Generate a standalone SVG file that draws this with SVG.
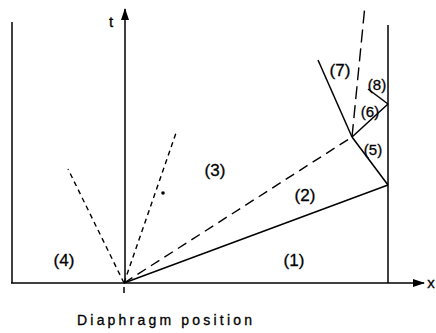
<svg xmlns="http://www.w3.org/2000/svg" width="436" height="333" viewBox="0 0 436 333">
<defs>
<marker id="arr" viewBox="0 0 12 8" refX="11" refY="4" markerWidth="12" markerHeight="8" markerUnits="userSpaceOnUse" orient="auto">
<path d="M0,0 L12,4 L0,8 Z" fill="#000"/>
</marker>
</defs>
<style>
.s{stroke:#000;stroke-width:1.5;fill:none}
.d{stroke:#000;stroke-width:1.4;fill:none}
.f{stroke-dasharray:5,4}
.c{stroke-dasharray:10,6}
.u{stroke-dasharray:13,6}
.lb{font-family:"Liberation Sans",Arial,sans-serif;font-size:17px;fill:#000;stroke:#000;stroke-width:0.3;text-anchor:middle}
.sm{font-family:"Liberation Sans",Arial,sans-serif;font-size:15px;fill:#000;stroke:#000;stroke-width:0.3;text-anchor:middle}
</style>
<rect width="436" height="333" fill="#fff"/>
<g id="axes">
<line class="s" x1="11" y1="283" x2="424" y2="283" marker-end="url(#arr)"/>
<line class="s" x1="125" y1="283" x2="125" y2="9" marker-end="url(#arr)"/>
<line class="s" x1="12" y1="22" x2="12" y2="283"/>
<line class="s" x1="388" y1="25" x2="388" y2="283"/>
<line class="s" x1="124" y1="287" x2="124" y2="293"/>
<text x="111" y="27" class="sm">t</text>
<text x="431" y="288" class="sm">x</text>
<text x="77" y="325" font-family="Liberation Sans, Arial, sans-serif" font-size="14" stroke="#000" stroke-width="0.3" textLength="175" lengthAdjust="spacing">Diaphragm position</text>
</g>
<g id="connectors">
<line class="s" x1="124" y1="283" x2="388" y2="185"/>
<line class="d c" x1="124" y1="283" x2="352" y2="137"/>
<line class="d f" x1="124" y1="283" x2="68" y2="169"/>
<line class="d f" x1="124" y1="283" x2="177" y2="130"/>
<line class="s" x1="388" y1="185" x2="352" y2="137"/>
<line class="s" x1="352" y1="137" x2="318" y2="60"/>
<line class="d u" x1="352" y1="137" x2="365" y2="5"/>
<line class="s" x1="352" y1="137" x2="388" y2="104"/>
<line class="s" x1="388" y1="104" x2="368" y2="89"/>
<circle cx="163" cy="193" r="1.8" fill="#000"/>
</g>
<g id="region1"><text x="294" y="266" class="lb">(1)</text></g>
<g id="region2"><text x="305" y="201" class="lb">(2)</text></g>
<g id="region3"><text x="215" y="176" class="lb">(3)</text></g>
<g id="region4"><text x="64" y="266" class="lb">(4)</text></g>
<g id="region5"><text x="373" y="155" class="sm">(5)</text></g>
<g id="region6"><text x="370" y="117" class="sm">(6)</text></g>
<g id="region7"><text x="340" y="76" class="lb">(7)</text></g>
<g id="region8"><text x="377" y="90" class="sm">(8)</text></g>
</svg>
